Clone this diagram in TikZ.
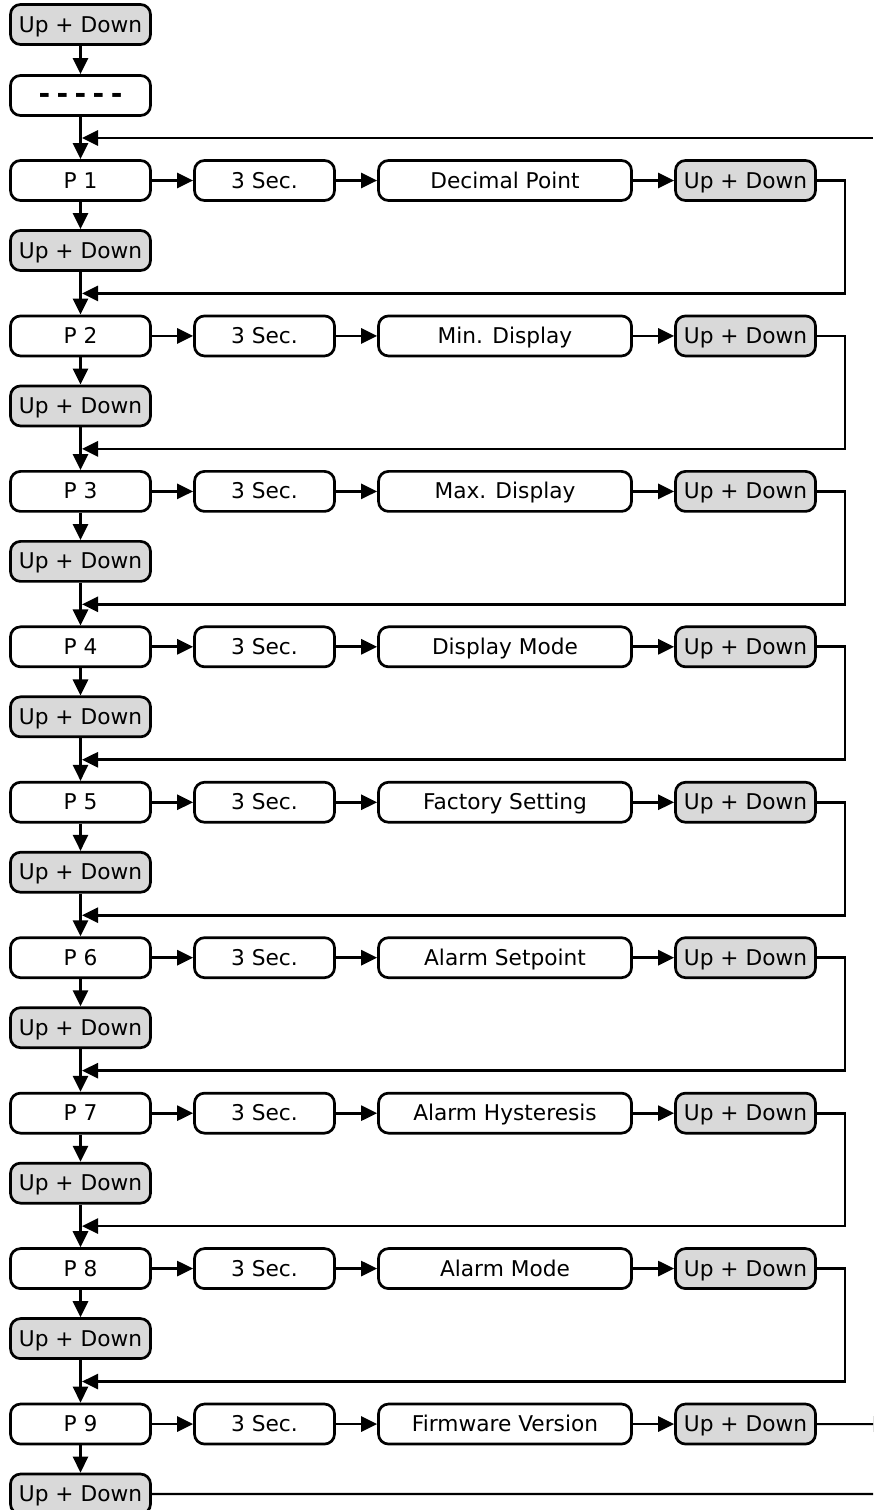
\documentclass[tikz,border=0pt]{standalone}
\usepackage{fontspec}
\setmainfont{DejaVu Sans}
\usetikzlibrary{arrows.meta}
\definecolor{keygray}{RGB}{217,217,217}
\begin{document}
\begin{tikzpicture}[x=1pt,y=-1pt,
  box/.style={draw, line width=2.7pt, rounded corners=10pt, minimum height=40pt,
    inner sep=0pt, text height=16pt, text depth=1pt, font=\fontsize{21.7}{25}\selectfont},
  keybox/.style={box, fill=keygray, minimum width=140pt},
  pbox/.style={box, minimum width=140pt},
  parbox/.style={box, minimum width=253pt},
  wire/.style={line width=2.7pt},
  conn/.style={wire, -{Triangle[length=16pt,width=15pt]}}
]
\useasboundingbox (0,0) rectangle (873,1510);
\clip (0,0) rectangle (873,1510);
\node[keybox] (start) at (80.5,24.5) {Up + Down};
\node[pbox] (dash) at (80.5,95.5) {\fontsize{28}{30}\selectfont\bfseries -\hspace{0.23em}-\hspace{0.23em}-\hspace{0.23em}-\hspace{0.23em}-};
\draw[conn] (start) -- (dash);
\coordinate (in0) at (873,138);
\coordinate (m0) at (82,138);
\draw[conn] (in0) -- (m0);
\foreach \i/\lab in {1/Decimal Point,2/Min. Display,3/Max. Display,4/Display Mode,5/Factory Setting,6/Alarm Setpoint,7/Alarm Hysteresis,8/Alarm Mode,9/Firmware Version}{
  \pgfmathsetmacro\yc{180.5+(\i-1)*155.44}
  \node[pbox] (p\i) at (80.5,\yc) {P \i};
  \node[pbox] (s\i) at (264.5,\yc) {3 Sec.};
  \node[parbox] (d\i) at (505,\yc) {\lab};
  \node[keybox] (k\i) at (745.5,\yc) {Up + Down};
  \node[keybox] (u\i) at (80.5,\yc+70) {Up + Down};
  \draw[conn] (p\i) -- (s\i);
  \draw[conn] (s\i) -- (d\i);
  \draw[conn] (d\i) -- (k\i);
  \draw[conn] (p\i) -- (u\i);
}
\draw[conn] (dash) -- (p1);
\foreach \i in {1,...,8}{
  \pgfmathtruncatemacro\j{\i+1}
  \pgfmathsetmacro\yf{180.5+(\i-1)*155.44+112.94}
  \coordinate (r\i) at (845,\yf);
  \coordinate (m\i) at (82,\yf);
  \draw[conn] (k\i.east) -| (r\i) -- (m\i);
  \draw[conn] (u\i) -- (p\j);
}
\coordinate (x9) at (889,1424);
\coordinate (x10) at (873,1494);
\draw[conn, line width=2pt] (k9) -- (x9);
\draw[wire, line width=2.2pt] (u9) -- (x10);
\end{tikzpicture}
\end{document}
